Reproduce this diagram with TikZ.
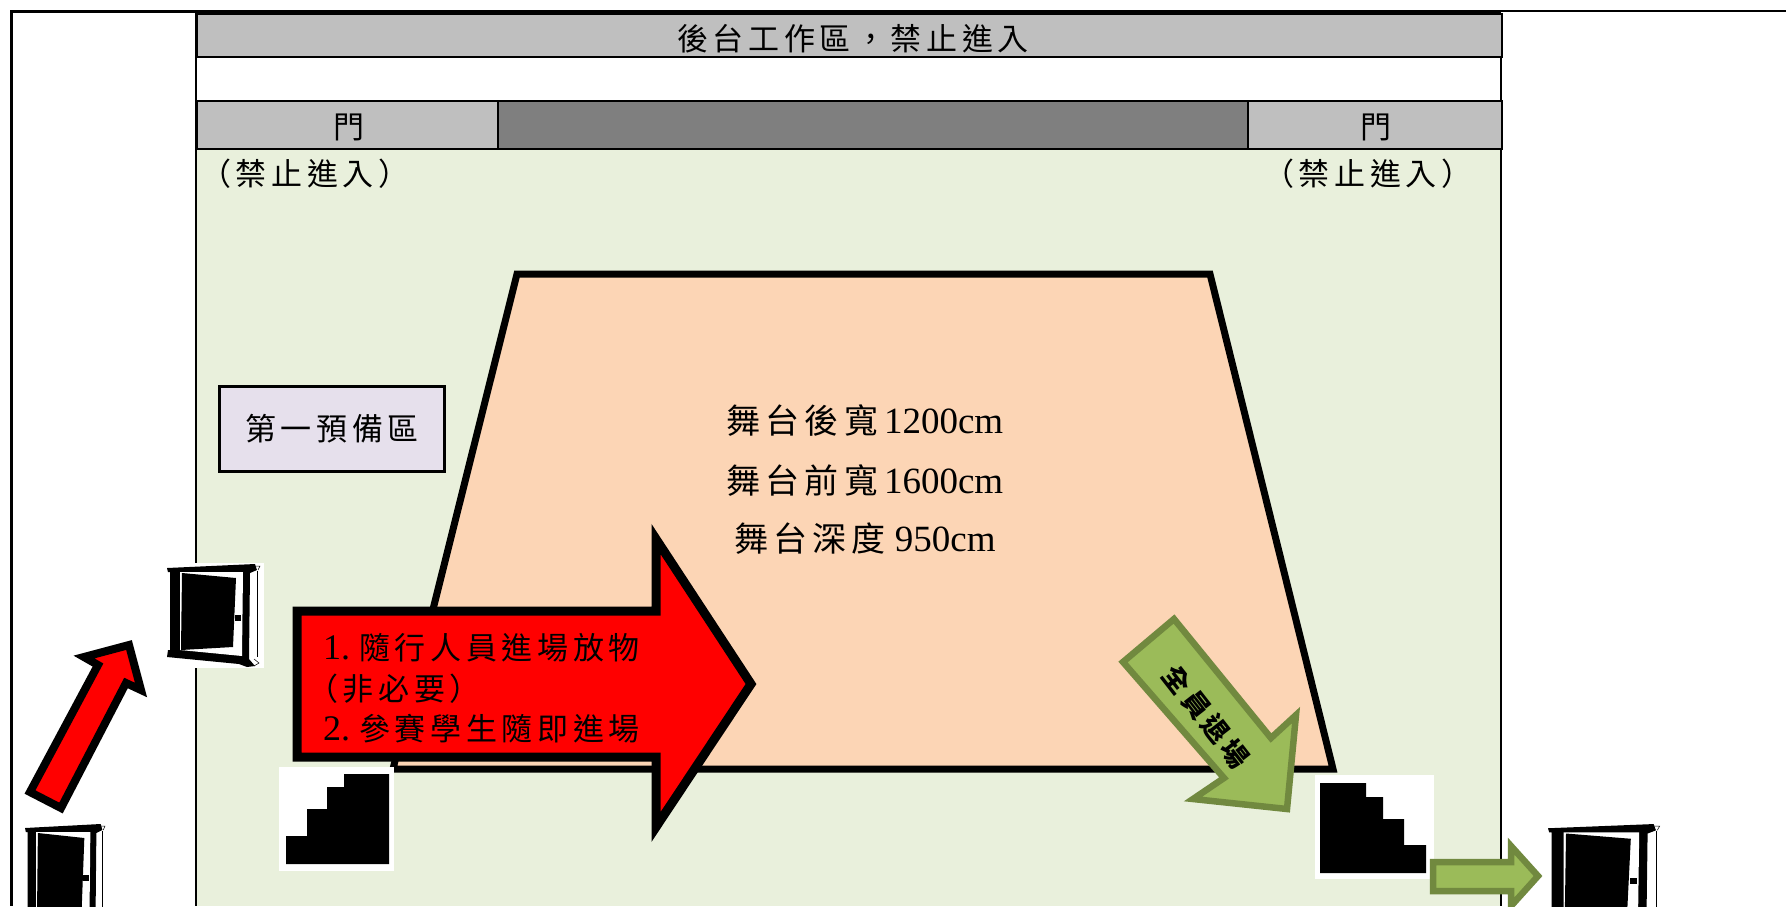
\documentclass[tikz,border=0pt]{standalone}
\usepackage{fontspec}
\setmainfont{Liberation Serif}
\newfontfamily\cjk[LetterSpace=15]{Noto Sans CJK TC}
\newcommand{\lat}[1]{{\fontspec{Liberation Serif}#1}}
\newcommand{\flp}{\char"FF08\relax}
\newcommand{\frp}{\char"FF09\relax}
\newcommand{\fcm}{\char"FF0C\relax}
\definecolor{areagreen}{HTML}{E9F0DC}
\definecolor{stagepeach}{HTML}{FCD5B5}
\definecolor{lilac}{HTML}{E6E0EC}
\definecolor{lightgrey}{HTML}{BFBFBF}
\definecolor{midgrey}{HTML}{7F7F7F}
\definecolor{olive}{HTML}{9BBB59}
\definecolor{olivedark}{HTML}{71893F}
\tikzset{
  band/.style={draw=black,line width=1.8pt},
  label/.style={font=\fontsize{31}{36}\selectfont\cjk,inner sep=0pt,text=black},
  stagelabel/.style={font=\fontsize{34}{36}\selectfont\cjk,inner sep=0pt,text=black},
  redarrow/.style={draw=black,fill=red,line width=9pt,miter limit=10,line join=miter},
  greenarrow/.style={draw=olivedark,fill=olive,line width=6.5pt,miter limit=10,line join=miter},
  doorpic/.pic={
    % local coordinates: 1 unit = 1 px of the first door, origin top-left of its white ground
    \fill[white] (0,0) rectangle (97,105);
    \fill[black] (0,5) -- (88,1) -- (90,7) -- (83,10) -- (82,96) -- (88,103) -- (80,104) -- (72,101) -- (0,94) -- (1,87) -- (3,87) -- (3,9) -- (1,9) -- cycle;
    \fill[white] (13,9) -- (76,9) -- (75,93) -- (13,87) -- cycle;
    \fill[black] (15,10) -- (69,15) -- (66,84) -- (14,87) -- cycle;
    \fill[black] (68,52) rectangle (74,58);
    \draw[black,line width=0.5pt] (90,8) -- (90,94);
    \draw[black,line width=0.5pt] (88,3) -- (93,3) -- (91,7);
    \draw[black,line width=0.5pt] (87,96) -- (92,100) -- (87,103);
  }
}
\begin{document}
\begin{tikzpicture}[x=1pt,y=-1pt]
\useasboundingbox (0,0) rectangle (1786,906);
\clip (0,0) rectangle (1786,906);
\fill[white] (0,0) rectangle (1786,906);
% outer frame
\draw[black,line width=1.5pt] (1786,11) -- (500,11);
\draw[black,line width=3pt] (600,11.5) -- (11.5,11.5) -- (11.5,906);
% main area
\fill[areagreen] (196,148) rectangle (1501,906);
\draw[black,line width=2.5pt] (196,13) -- (196,906);
\draw[black,line width=2.5pt] (1501,13) -- (1501,906);
% header bands
\node[band,fill=lightgrey,minimum width=1305pt,minimum height=43pt,anchor=north west,inner sep=0pt] (backstage) at (196,13) {};
\draw[black,line width=4pt] (196,13) -- (1501,13);
\node[label] (backstagetext) at (853,39) {後台工作區\fcm 禁止進入};
\node[band,fill=lightgrey,minimum width=301pt,minimum height=48pt,anchor=north west,inner sep=0pt] (doorleft) at (196,100) {};
\node[band,fill=midgrey,minimum width=750pt,minimum height=48pt,anchor=north west,inner sep=0pt] (wall) at (497,100) {};
\node[band,fill=lightgrey,minimum width=254pt,minimum height=48pt,anchor=north west,inner sep=0pt] (doorright) at (1247,100) {};
\node[label] (doorlefttext) at (349,127) {門};
\node[label] (doorrighttext) at (1376,127) {門};
\node[label,anchor=west] (noentryleft) at (200,174) {\flp 禁止進入\frp};
\node[label,anchor=west] (noentryright) at (1263,174) {\flp 禁止進入\frp};
% stage
\draw[black,line width=7pt,fill=stagepeach,miter limit=10] (517,274) -- (1210,274) -- (1333,769) -- (393,769) -- cycle;
\node[stagelabel] (stagea) at (865,421) {舞台後寬\hspace{6pt}\lat{\fontsize{37}{36}\selectfont 1200cm}};
\node[stagelabel] (stageb) at (865,481) {舞台前寬\hspace{6pt}\lat{\fontsize{37}{36}\selectfont 1600cm}};
\node[stagelabel] (stagec) at (865,539) {舞台深度\lat{\fontsize{37}{36}\selectfont\ 950cm}};
% standby
\node[draw=black,line width=3.5pt,fill=lilac,minimum width=225pt,minimum height=85pt,inner sep=0pt,font=\fontsize{31}{36}\selectfont\cjk] (standby) at (332,429) {\raisebox{-2pt}{第一預備區}};
% big red arrow
\draw[redarrow] (297,611) -- (656,611) -- (656,539) -- (751,684) -- (656,827) -- (656,757) -- (297,757) -- cycle;
\node[label,anchor=west] (reda) at (323,648) {\lat{\fontsize{36}{36}\selectfont 1.\hspace{9pt}}隨行人員進場放物};
\node[label,anchor=west] (redb) at (307,689) {\flp 非必要\frp};
\node[label,anchor=west] (redc) at (323,729) {\lat{\fontsize{36}{36}\selectfont 2.\hspace{9pt}}參賽學生隨即進場};
% small red arrow
\draw[redarrow,line width=8pt] (30,792) -- (61,808) -- (126,683) -- (141,690) -- (129,645) -- (84,657) -- (98,665) -- cycle;
% green arrows
\draw[greenarrow] (1174,619) -- (1123,662) -- (1224,778) -- (1193,799) -- (1287,809) -- (1296,715) -- (1271,738) -- cycle;
\node[font=\fontsize{27}{28}\selectfont\bfseries\cjk,inner sep=0pt,rotate=-52] (exit) at (1206,717) {全員退場};
% stairs
\fill[white] (279,767) rectangle (394,871);
\fill[black] (286,864) -- (286,836) -- (307,836) -- (307,809) -- (327,809) -- (327,787) -- (344,787) -- (344,774) -- (389,774) -- (389,864) -- cycle;
\fill[white] (1315,775) rectangle (1434,879);
\fill[black] (1320,873) -- (1320,783) -- (1366,783) -- (1366,797) -- (1383,797) -- (1383,819) -- (1404,819) -- (1404,845) -- (1426,845) -- (1426,873) -- cycle;
\draw[greenarrow] (1433,862) -- (1511,862) -- (1511,846) -- (1538,876) -- (1511,906) -- (1511,891) -- (1433,891) -- cycle;
% doors
\pic at (167,563) {doorpic};
\pic[xscale=0.86] at (25,823) {doorpic};
\pic[xscale=1.2,yscale=1.05] at (1548,823) {doorpic};
\end{tikzpicture}
\end{document}
